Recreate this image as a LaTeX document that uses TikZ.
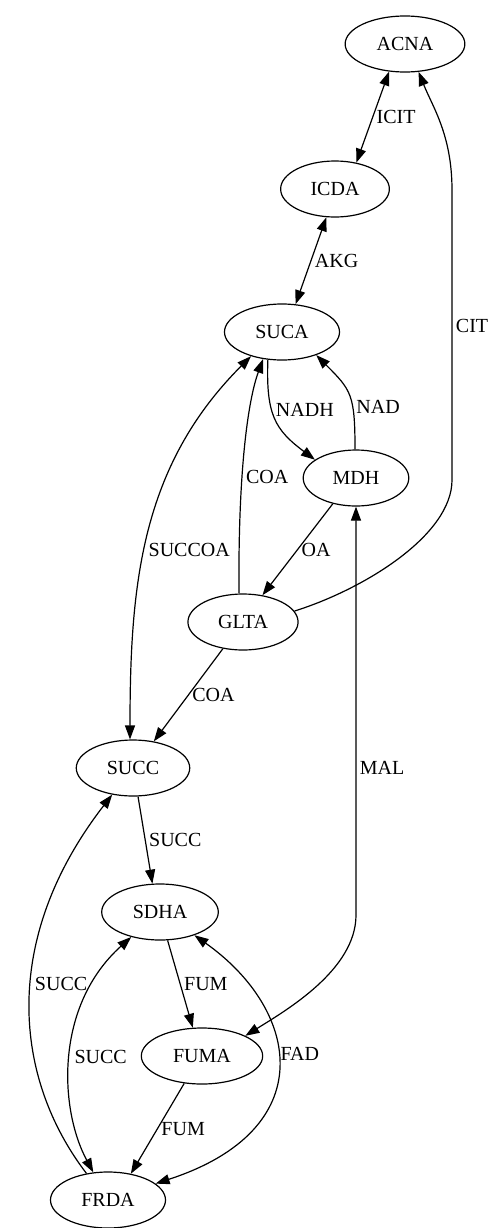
\documentclass[tikz,border=0pt]{standalone}
\usepackage{fontspec}
\setmainfont{Liberation Serif}
\usetikzlibrary{arrows.meta,shapes.geometric}

\begin{document}
\begin{tikzpicture}[
    x=0.75pt,
    y=-0.75pt,
    font=\fontsize{15}{18}\selectfont,
    >={Triangle[length=10.5pt,width=7.5pt]},
    enz/.style={
        draw,
        ellipse,
        line width=0.9pt,
        inner xsep=10.5pt,
        inner ysep=2pt,
        minimum height=42pt
    },
    arrow/.style={
        ->,
        line width=0.9pt,
        draw=black
    },
    biarrow/.style={
        <->,
        line width=0.9pt,
        draw=black
    },
    lbl/.style={
        right,
        inner sep=2.5pt
    }
]

\useasboundingbox (0,0) rectangle (487,1228);

% =========================
% nodes
% =========================
\node[enz] (acna) at (405,44)   {ACNA};
\node[enz] (icda) at (335,189)  {ICDA};
\node[enz] (suca) at (282,332)  {SUCA};
\node[enz] (mdh)  at (356,478)  {MDH};
\node[enz] (glta) at (243,622)  {GLTA};
\node[enz] (succ) at (133,768)  {SUCC};
\node[enz] (sdha) at (160,912)  {SDHA};
\node[enz] (fuma) at (202,1056) {FUMA};
\node[enz] (frda) at (108,1200) {FRDA};

% =========================
% upper part
% =========================
\draw[biarrow] (acna.240) -- node[lbl] (icit) {ICIT} (icda.51);
\draw[biarrow] (icda.253) -- node[lbl] (akg) {AKG} (suca.64);

\draw[arrow] (glta.12) .. controls +(70,-22) and +(0,55) .. (452,480)
    -- node[lbl,pos=0.53] (cit) {CIT} (452,190)
    .. controls +(0,-55) and +(14,35) .. (acna.296);

\draw[arrow] (suca.243) .. controls +(-2,55) and +(-40,-30) .. node[lbl,pos=0.4] (nadh) {NADH} (mdh.156);
\draw[arrow] (mdh.92) .. controls +(0,-55) and +(35,35) .. node[lbl,pos=0.35] (nad) {NAD} (suca.326);
\draw[arrow] (glta.98) .. controls +(-1,-123) and +(-15,41) .. node[lbl,pos=0.37] (coa1) {COA} (suca.235);
\draw[arrow] (mdh.228) -- node[lbl] (oa) {OA} (glta.54);

% =========================
% middle part
% =========================
\draw[biarrow] (suca.218) .. controls +(-110,110) and +(0,-155) .. node[lbl,pos=0.55] (succoa) {SUCCOA} (succ.96);
\draw[arrow] (glta.233) -- node[lbl] (coa2) {COA} (succ.52);
\draw[arrow] (succ.280) -- node[lbl] (succ1) {SUCC} (sdha.105);

\draw[biarrow] (mdh.270) -- node[lbl,pos=0.64] (mal) {MAL} (356,915)
    .. controls +(0,55) and +(40,-25) .. (fuma.25);

% =========================
% lower part
% =========================
\draw[arrow] (sdha.285) -- node[lbl] (fum1) {FUM} (fuma.108);
\draw[arrow] (fuma.237) -- node[lbl] (fum2) {FUM} (frda.49);

\draw[biarrow] (sdha.326) .. controls +(106,75) and +(166,-54) .. node[lbl,pos=0.45] (fad) {FAD} (frda.19);
\draw[biarrow] (sdha.221) .. controls +(-77,69) and +(-34,-63) .. node[lbl,pos=0.5] (succ2) {SUCC} (frda.118);
\draw[arrow] (frda.129) .. controls +(-72,-94) and +(-113,146) .. node[lbl,pos=0.55] (succ3) {SUCC} (succ.232);

\end{tikzpicture}
\end{document}
